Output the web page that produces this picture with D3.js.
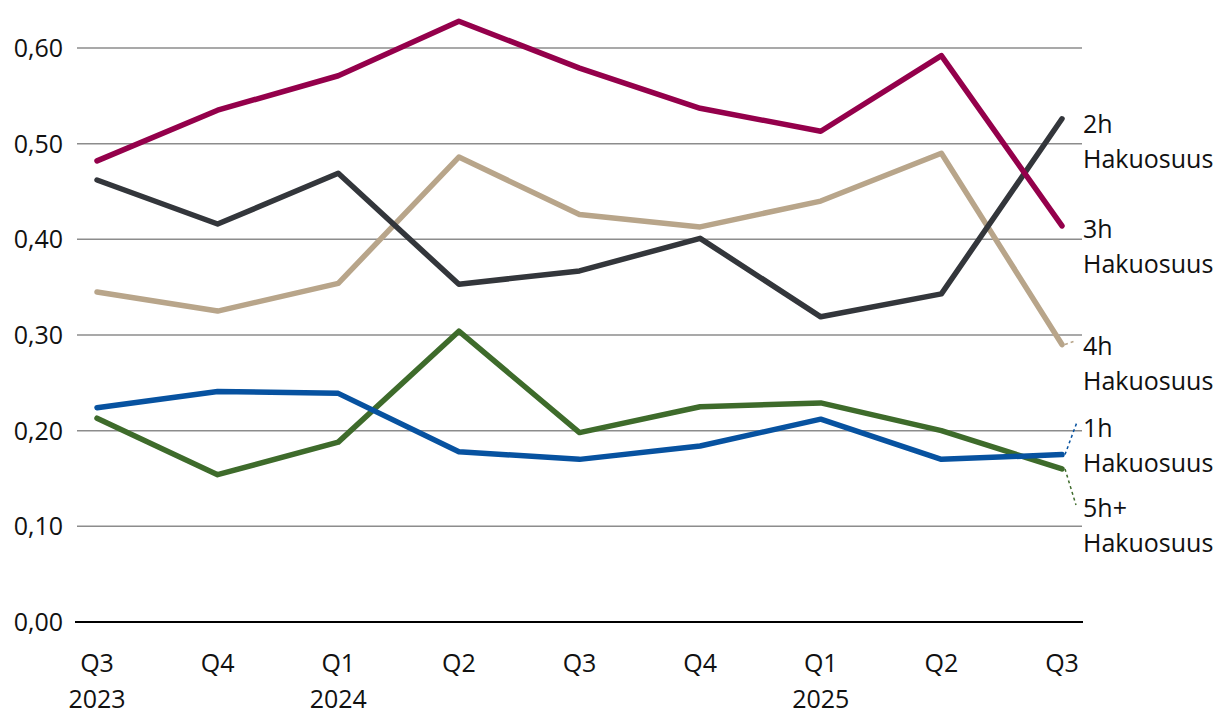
<!DOCTYPE html>
<html>
<head>
<meta charset="utf-8">
<script src="https://cdn.jsdelivr.net/npm/d3@7"></script>
<style>
  body { margin: 0; background: #fff; }
  svg text { font-family: "Open Sans", "Noto Sans", sans-serif; fill: #111; }
</style>
</head>
<body>
<svg id="chart" width="1220" height="720"></svg>
<script>
// Quarters on the x axis
const quarters = ['Q3', 'Q4', 'Q1', 'Q2', 'Q3', 'Q4', 'Q1', 'Q2', 'Q3'];
const years = ['2023', '', '2024', '', '', '', '2025', '', ''];

// Series values
const hakuosuus3h = [0.482, 0.535, 0.571, 0.628, 0.579, 0.537, 0.513, 0.592, 0.414];
const hakuosuus2h = [0.462, 0.416, 0.469, 0.353, 0.367, 0.401, 0.319, 0.343, 0.526];
const hakuosuus4h = [0.345, 0.325, 0.354, 0.486, 0.426, 0.413, 0.440, 0.490, 0.290];
const hakuosuus5h = [0.213, 0.154, 0.188, 0.304, 0.198, 0.225, 0.229, 0.200, 0.160];
const hakuosuus1h = [0.224, 0.241, 0.239, 0.178, 0.170, 0.184, 0.212, 0.170, 0.175];

const yTicks = [0, 0.1, 0.2, 0.3, 0.4, 0.5, 0.6];

const series = [
    { name: '4h', values: hakuosuus4h, color: '#b8a58a' },
    { name: '5h+', values: hakuosuus5h, color: '#3e6b2b' },
    { name: '1h', values: hakuosuus1h, color: '#0752a0' },
    { name: '2h', values: hakuosuus2h, color: '#33363b' },
    { name: '3h', values: hakuosuus3h, color: '#94004b' }
];

// end labels, some with a dashed leader to the line end
const labels = [
    { name: '2h', y: 133, leader: null },
    { name: '3h', y: 238, leader: null },
    { name: '4h', y: 355, leader: { series: '4h', to: [1075, 341] } },
    { name: '1h', y: 437, leader: { series: '1h', to: [1077, 422] } },
    { name: '5h+', y: 517, leader: { series: '5h+', to: [1076, 505] } }
];

const svg = d3.select('#chart');

const x = d3.scalePoint()
    .domain(d3.range(quarters.length))
    .range([97, 1062]);

const y = d3.scaleLinear()
    .domain([0, 0.6])
    .range([622, 48]);

// Gridlines
svg.append('g')
    .selectAll('line')
    .data(yTicks.filter(d => d > 0))
    .enter()
    .append('line')
    .attr('x1', 77)
    .attr('x2', 1082)
    .attr('y1', d => y(d))
    .attr('y2', d => y(d))
    .attr('stroke', '#8c8c8c')
    .attr('stroke-width', 1.5);

// Baseline
svg.append('line')
    .attr('x1', 75)
    .attr('x2', 1083)
    .attr('y1', y(0))
    .attr('y2', y(0))
    .attr('stroke', '#000')
    .attr('stroke-width', 2);

// Y tick labels
svg.append('g')
    .selectAll('text')
    .data(yTicks)
    .enter()
    .append('text')
    .attr('x', 63)
    .attr('y', d => y(d) + 9)
    .attr('text-anchor', 'end')
    .style('font-size', '25px')
    .text(d => d.toFixed(2).replace('.', ','));

// X labels
const xl = svg.append('g')
    .selectAll('g')
    .data(quarters)
    .enter()
    .append('g');

xl.append('text')
    .attr('x', (d, i) => x(i))
    .attr('y', 672)
    .attr('text-anchor', 'middle')
    .style('font-size', '25px')
    .text(d => d);

xl.append('text')
    .attr('x', (d, i) => x(i))
    .attr('y', 708)
    .attr('text-anchor', 'middle')
    .style('font-size', '25px')
    .text((d, i) => years[i]);

// Lines
const line = d3.line()
    .x((d, i) => x(i))
    .y(d => y(d));

svg.append('g')
    .selectAll('path')
    .data(series)
    .enter()
    .append('path')
    .attr('d', d => line(d.values))
    .attr('fill', 'none')
    .attr('stroke', d => d.color)
    .attr('stroke-width', 5.5)
    .attr('stroke-linejoin', 'round')
    .attr('stroke-linecap', 'round');

// Leader lines
const last = quarters.length - 1;
labels.filter(l => l.leader).forEach(l => {
    const s = series.find(s => s.name === l.leader.series);
    svg.append('line')
        .attr('x1', x(last) + 3)
        .attr('y1', y(s.values[last]))
        .attr('x2', l.leader.to[0])
        .attr('y2', l.leader.to[1])
        .attr('stroke', s.color)
        .attr('stroke-width', 1.5)
        .attr('stroke-dasharray', '3,3');
});

// End labels
const lg = svg.append('g')
    .selectAll('text')
    .data(labels)
    .enter()
    .append('text')
    .attr('x', 1083)
    .attr('y', d => d.y)
    .style('font-size', '25px');

lg.append('tspan')
    .text(d => d.name);
lg.append('tspan')
    .attr('x', 1083)
    .attr('dy', 35)
    .text('Hakuosuus');
</script>
</body>
</html>
